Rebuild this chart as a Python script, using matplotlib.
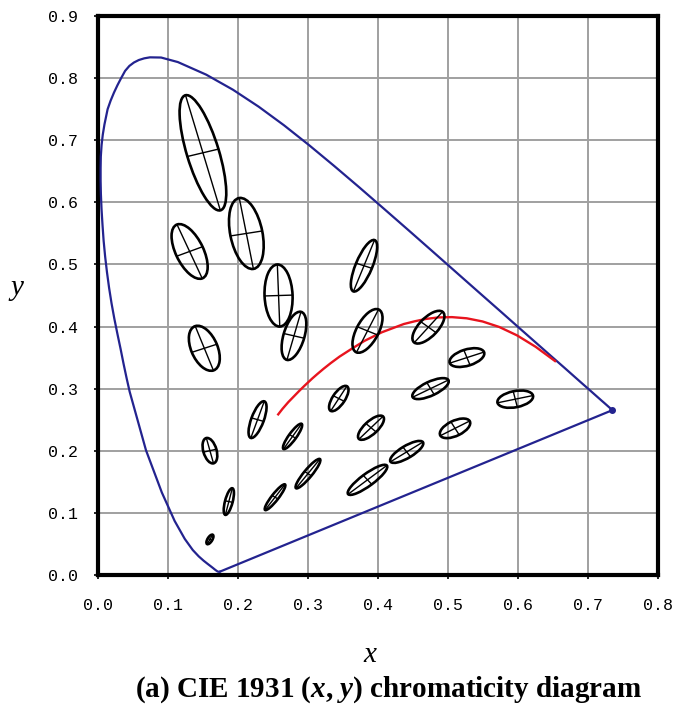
import numpy as np
import matplotlib
matplotlib.use("Agg")
import matplotlib.pyplot as plt
from matplotlib.patches import Ellipse

plt.rcParams['mathtext.fontset'] = 'custom'
plt.rcParams['mathtext.it'] = 'Liberation Serif:italic:bold'
plt.rcParams['mathtext.rm'] = 'Liberation Serif:bold'

# CIE 1931 spectral locus (x, y)
locus_x = [0.1741, 0.1738, 0.1733, 0.1726, 0.1714, 0.1703,
           0.1689, 0.1669, 0.1644, 0.1611, 0.1566, 0.1510, 0.1440, 0.1355, 0.1241, 0.1096,
           0.0913, 0.0687, 0.0454, 0.0410, 0.0367, 0.0325, 0.0280, 0.0235, 0.0195, 0.0160,
           0.0130, 0.0104, 0.0082, 0.0066, 0.0052, 0.0043, 0.0039, 0.0039, 0.0042, 0.0053,
           0.0070, 0.0094, 0.0139, 0.0182, 0.0230, 0.0280, 0.0333, 0.0389, 0.0450, 0.0515,
           0.0585, 0.0662, 0.0743, 0.0903, 0.1060, 0.1142,
           0.1547, 0.1929, 0.2296, 0.2658, 0.3016, 0.3373, 0.3731, 0.4087, 0.4441, 0.4788,
           0.5125, 0.5448, 0.5752, 0.6029, 0.6270, 0.6482, 0.6658, 0.6801, 0.6915, 0.7006,
           0.7079, 0.7140, 0.7190, 0.7230, 0.7260, 0.7300, 0.7320, 0.7334, 0.7347]
locus_y = [0.0050, 0.0049, 0.0048, 0.0048, 0.0051, 0.0058,
           0.0069, 0.0086, 0.0109, 0.0138, 0.0177, 0.0227, 0.0297, 0.0399, 0.0578, 0.0868,
           0.1327, 0.2007, 0.2950, 0.3170, 0.3399, 0.3636, 0.3877, 0.4127, 0.4375, 0.4625,
           0.4875, 0.5125, 0.5384, 0.5640, 0.5897, 0.6138, 0.6351, 0.6548, 0.6740, 0.6926,
           0.7092, 0.7257, 0.7502, 0.7640, 0.7770, 0.7890, 0.8005, 0.8120, 0.8200, 0.8255,
           0.8295, 0.8322, 0.8338, 0.8335, 0.8287, 0.8262,
           0.8059, 0.7816, 0.7543, 0.7243, 0.6923, 0.6589, 0.6245, 0.5896, 0.5547, 0.5202,
           0.4866, 0.4544, 0.4242, 0.3965, 0.3725, 0.3514, 0.3340, 0.3197, 0.3083, 0.2993,
           0.2920, 0.2859, 0.2809, 0.2770, 0.2740, 0.2700, 0.2680, 0.2666, 0.2653]

# Planckian locus (red curve)
planck_x = [0.2575, 0.2637, 0.2719, 0.2807, 0.2869, 0.2952, 0.3064, 0.3135, 0.3221, 0.3325,
            0.3451, 0.3615, 0.3805, 0.4053, 0.4369, 0.4525, 0.4685, 0.4862, 0.5056, 0.5267,
            0.5493, 0.5732, 0.5985, 0.6251, 0.6528]
planck_y = [0.2585, 0.2675, 0.2782, 0.2884, 0.2956, 0.3048, 0.3166, 0.3236, 0.3318, 0.3411,
            0.3516, 0.3635, 0.3768, 0.3907, 0.4041, 0.4085, 0.4123, 0.4147, 0.4152, 0.4133,
            0.4082, 0.3993, 0.3858, 0.3674, 0.3444]

# MacAdam ellipses (shown 10x enlarged): centre, semi-axes (x1e-3), angle (deg)
ell_x = [0.160, 0.187, 0.253, 0.150, 0.131, 0.212, 0.258, 0.152, 0.280, 0.380, 0.160, 0.228,
         0.385, 0.472, 0.527, 0.475, 0.510, 0.596, 0.344, 0.390, 0.441, 0.278, 0.300, 0.385]
ell_y = [0.057, 0.118, 0.125, 0.680, 0.521, 0.550, 0.450, 0.365, 0.385, 0.498, 0.200, 0.250,
         0.393, 0.399, 0.350, 0.300, 0.236, 0.283, 0.284, 0.237, 0.198, 0.223, 0.163, 0.153]
ell_a = [0.85, 2.2, 2.5, 9.6, 4.7, 5.8, 5.0, 3.8, 4.0, 4.4, 2.1, 3.1,
         3.8, 3.2, 2.6, 2.9, 2.4, 2.6, 2.3, 2.5, 2.8, 2.4, 2.9, 3.6]
ell_b = [0.35, 0.55, 0.50, 2.3, 2.0, 2.3, 2.0, 1.9, 1.5, 1.2, 0.95, 0.9,
         1.6, 1.4, 1.3, 1.1, 1.2, 1.3, 0.9, 1.0, 0.95, 0.55, 0.6, 0.95]
ell_t = [62.5, 77, 55.5, 105, 112.5, 100, 92, 110, 75.5, 70, 104, 72,
         65.5, 51, 20, 28.5, 29.5, 13, 60, 47, 34.5, 57.5, 54, 40]
scale = 10e-3

x_ticks = [0.0, 0.1, 0.2, 0.3, 0.4, 0.5, 0.6, 0.7, 0.8]
y_ticks = [0.0, 0.1, 0.2, 0.3, 0.4, 0.5, 0.6, 0.7, 0.8, 0.9]

fig = plt.figure(figsize=(6.75, 7.07), dpi=100)
ax = fig.add_axes([0.145, 0.187, 0.830, 0.790])
ax.set_xlim(0, 0.8)
ax.set_ylim(0, 0.9)
ax.set_xticks(x_ticks)
ax.set_yticks(y_ticks)
ax.set_xticklabels([f"{v:.1f}" for v in x_ticks], family='Liberation Mono', fontsize=12)
ax.set_yticklabels([f"{v:.1f}" for v in y_ticks], family='Liberation Mono', fontsize=12)
ax.tick_params(direction='out', length=3, width=1.2)
ax.tick_params(axis='x', pad=14)
ax.tick_params(axis='y', pad=11)
ax.grid(True, color='#a0a0a0', linewidth=1.4)
ax.set_axisbelow(True)
for s in ax.spines.values():
    s.set_linewidth(3)

blue = '#23238f'
# spectral locus + purple line
ax.plot(locus_x, locus_y, color=blue, lw=1.6, zorder=3)
ax.plot([locus_x[-1], locus_x[0]], [locus_y[-1], locus_y[0]], color=blue, lw=1.6, zorder=3)
ax.plot([locus_x[-1]], [locus_y[-1]], 'o', color=blue, ms=4, zorder=3)

# Planckian locus
ax.plot(planck_x, planck_y, color='#e8141e', lw=1.7, zorder=4)

# ellipses
for cx, cy, a, b, t in zip(ell_x, ell_y, ell_a, ell_b, ell_t):
    A = a * scale
    B = b * scale
    e = Ellipse((cx, cy), 2 * A, 2 * B, angle=t, fill=False, edgecolor='black', lw=1.9, zorder=5)
    ax.add_patch(e)
    th = np.deg2rad(t)
    ax.plot([cx - A * np.cos(th), cx + A * np.cos(th)], [cy - A * np.sin(th), cy + A * np.sin(th)],
            color='black', lw=1.0, zorder=5)
    ax.plot([cx + B * np.sin(th), cx - B * np.sin(th)], [cy - B * np.cos(th), cy + B * np.cos(th)],
            color='black', lw=1.0, zorder=5)

ax.set_xlabel('x', family='Liberation Serif', style='italic', fontsize=21)
ax.xaxis.set_label_coords(0.485, -0.12)
ax.set_ylabel('y', family='Liberation Serif', style='italic', fontsize=21, rotation=0)
ax.yaxis.set_label_coords(-0.145, 0.49)

fig.text(0.575, 0.014, r'(a) CIE 1931 ($x$, $y$) chromaticity diagram', ha='center', va='baseline',
         family='Liberation Serif', weight='bold', fontsize=21)

fig.savefig('out.png', dpi=100)
